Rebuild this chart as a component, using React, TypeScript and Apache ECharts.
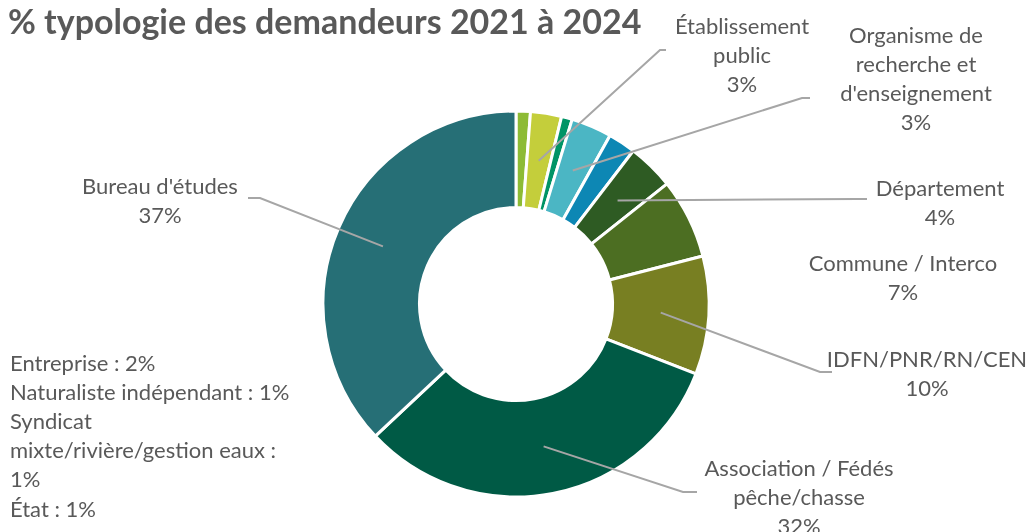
import React, { useEffect, useRef } from "react";
import * as echarts from "echarts";

// ---- data ----
const titleText = "% typologie des demandeurs 2021 à 2024";
const categories = [
  "État",
  "Établissement\npublic",
  "Syndicat mixte/rivière/gestion eaux",
  "Organisme de\nrecherche et\nd'enseignement",
  "Entreprise",
  "Département",
  "Commune / Interco",
  "IDFN/PNR/RN/CEN",
  "Association / Fédés\npêche/chasse",
  "Bureau d'études",
];
const values = [1.2, 2.6, 0.9, 3.4, 2.3, 3.9, 6.7, 9.9, 32.1, 37.0];
const showLabel = [false, true, false, true, false, true, true, true, true, true];
const otherNames = ["Entreprise", "Naturaliste indépendant", "Syndicat\nmixte/rivière/gestion eaux", "État"];
const otherValues = [2, 1, 1, 1];
const otherWrapValue = [false, false, true, false];

// ---- styles / layout ----
const colors = [
  "#8DBB35", "#C4CE3B", "#009466", "#4BB6C4", "#0D87B4",
  "#2E5B23", "#4C6E22", "#787F22", "#005A45", "#266F76",
];
const CX = 516;
const CY = 304;
const R_IN = 96.5;
const R_OUT = 193;
const R_MID = 145;
const FONT = "Lato";
const TEXT_COLOR = "#595959";
const LINE_COLOR = "#A6A6A6";
// label block centres and leader line elbows/ends (null = no label / no line)
const placements: ({ x: number; y: number; line: number[][] | null } | null)[] = [
  null,
  { x: 742, y: 54, line: [[660, 50], [666, 50]] },
  null,
  { x: 916, y: 78, line: [[802, 98], [810, 98]] },
  null,
  { x: 940, y: 202, line: [[857, 199], [867, 199]] },
  { x: 903, y: 277, line: null },
  { x: 927, y: 373, line: [[820, 372], [832, 372]] },
  { x: 799, y: 496, line: [[683, 492], [697, 492]] },
  { x: 160, y: 200, line: [[260, 198], [248, 198]] },
];

export default function App() {
  const ref = useRef<HTMLDivElement>(null);
  useEffect(() => {
    if (!ref.current) return;
    const chart = echarts.init(ref.current, null, { renderer: "svg" });
    const total = values.reduce((a, b) => a + b, 0);
    let cum = 0;
    const starts = values.map((v) => {
      const th = ((cum + v / 2) / total) * Math.PI * 2;
      cum += v;
      return [CX + R_MID * Math.sin(th), CY - R_MID * Math.cos(th)];
    });
    const data = categories.map((name, i) => ({
      name,
      value: values[i],
      itemStyle: { color: colors[i] },
      label: { show: showLabel[i] },
    }));
    const otherText = otherNames
      .map((n, i) => `${n} :${otherWrapValue[i] ? "\n" : " "}${otherValues[i]}%`)
      .join("\n");
    const leaderLines = placements
      .map((pl, i) =>
        pl && pl.line && showLabel[i]
          ? {
              type: "polyline",
              z: 100,
              silent: true,
              shape: { points: [starts[i], ...pl.line] },
              style: { stroke: LINE_COLOR, lineWidth: 2, fill: null },
            }
          : null
      )
      .filter(Boolean);
    chart.setOption({
      animation: false,
      title: [
        {
          text: titleText,
          left: 3,
          top: -2,
          textStyle: { fontFamily: FONT, fontSize: 34, fontWeight: "bold", color: TEXT_COLOR },
        },
        {
          text: otherText,
          left: 5,
          top: 343,
          textStyle: { fontFamily: FONT, fontSize: 22, fontWeight: "normal", color: TEXT_COLOR, lineHeight: 29.1 },
        },
      ],
      graphic: leaderLines,
      series: [
        {
          type: "pie",
          center: [CX, CY],
          radius: [R_IN, R_OUT],
          startAngle: 90,
          clockwise: true,
          avoidLabelOverlap: false,
          silent: true,
          itemStyle: { borderColor: "#ffffff", borderWidth: 3 },
          label: {
            show: true,
            position: "outside",
            fontFamily: FONT,
            fontSize: 22,
            color: TEXT_COLOR,
            lineHeight: 29,
            align: "center",
            formatter: (p: any) => `${p.name}\n${Math.round(p.value)}%`,
          },
          labelLine: { show: false },
          labelLayout: (params: any) => {
            const pl = placements[params.dataIndex];
            if (!pl) return {};
            return { x: pl.x, y: pl.y, align: "center", verticalAlign: "middle" };
          },
          data,
        },
      ],
    });
    return () => chart.dispose();
  }, []);
  return <div ref={ref} style={{ position: "fixed", left: 0, top: 0, width: 1029, height: 532 }} />;
}
